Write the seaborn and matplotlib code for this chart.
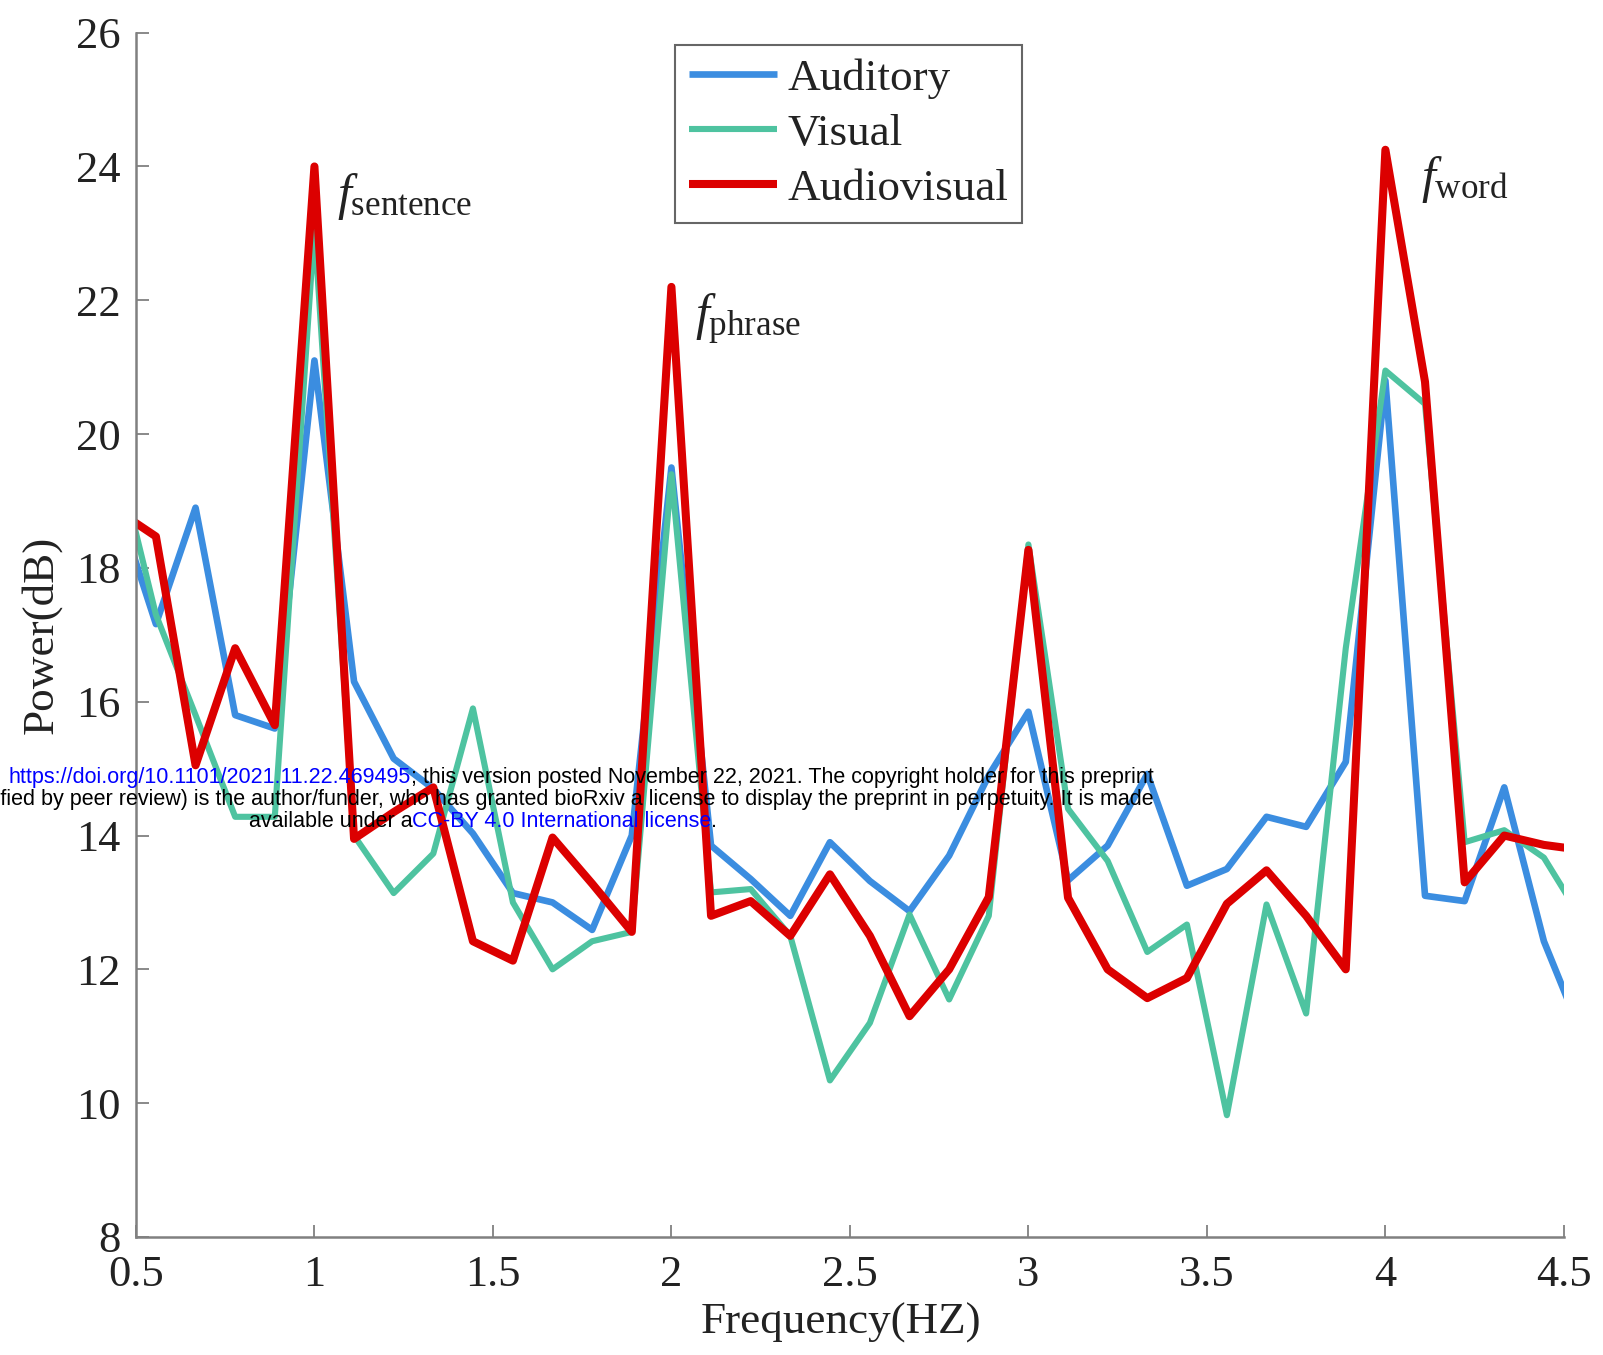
import numpy as np
import pandas as pd
import matplotlib
matplotlib.use("Agg")
import matplotlib.pyplot as plt
import seaborn as sns
from matplotlib.offsetbox import TextArea, HPacker, VPacker, AnnotationBbox

# ---------------- data ----------------
freq = [0.444, 0.556, 0.667, 0.778, 0.889, 1.0, 1.111, 1.222, 1.333, 1.444,
        1.556, 1.667, 1.778, 1.889, 2.0, 2.111, 2.222, 2.333, 2.444, 2.556,
        2.667, 2.778, 2.889, 3.0, 3.111, 3.222, 3.333, 3.444, 3.556, 3.667,
        3.778, 3.889, 4.0, 4.111, 4.222, 4.333, 4.444, 4.556]

auditory = [19.0, 17.16, 18.9, 15.8, 15.6, 21.1, 16.3, 15.15, 14.7, 14.03,
            13.14, 13.0, 12.59, 14.0, 19.5, 13.85, 13.35, 12.8, 13.9, 13.32,
            12.87, 13.7, 14.9, 15.85, 13.33, 13.85, 14.92, 13.25, 13.5, 14.28,
            14.13, 15.1, 20.8, 13.1, 13.02, 14.72, 12.42, 10.95]

visual = [19.75, 17.3, 15.8, 14.28, 14.28, 23.1, 14.0, 13.14, 13.73, 15.9,
          13.0, 12.0, 12.42, 12.56, 19.4, 13.15, 13.2, 12.5, 10.34, 11.2,
          12.82, 11.55, 12.8, 18.35, 14.4, 13.62, 12.26, 12.67, 9.82, 12.97,
          11.34, 16.8, 20.95, 20.45, 13.9, 14.08, 13.67, 12.7]

audiovisual = [18.87, 18.47, 15.05, 16.8, 15.65, 24.0, 13.95, 14.35, 14.72, 12.42,
               12.13, 13.97, 13.28, 12.56, 22.2, 12.8, 13.02, 12.5, 13.42, 12.5,
               11.3, 12.0, 13.08, 18.27, 13.07, 12.0, 11.57, 11.87, 12.98, 13.48,
               12.8, 12.0, 24.25, 20.78, 13.3, 14.0, 13.86, 13.78]

conditions = ["Auditory", "Visual", "Audiovisual"]
x_ticks = [0.5, 1, 1.5, 2, 2.5, 3, 3.5, 4, 4.5]
x_tick_labels = ["0.5", "1", "1.5", "2", "2.5", "3", "3.5", "4", "4.5"]
y_ticks = [8, 10, 12, 14, 16, 18, 20, 22, 24, 26]
peak_labels = [r"$f_{\mathrm{sentence}}$", r"$f_{\mathrm{phrase}}$", r"$f_{\mathrm{word}}$"]

# ---------------- style ----------------
colors = ["#3b8de0", "#4ec3a0", "#dc0000"]
widths = [4.8, 4.4, 5.8]
label_xy = [(1.063, 23.36), (2.066, 21.56), (4.099, 23.62)]

sns.set_style("ticks")
plt.rcParams["font.family"] = ["Liberation Serif", "DejaVu Serif"]
plt.rcParams["mathtext.fontset"] = "custom"
plt.rcParams["mathtext.rm"] = "Liberation Serif"
plt.rcParams["mathtext.it"] = "Liberation Serif:italic"

df = pd.DataFrame({
    "freq": freq * 3,
    "power": auditory + visual + audiovisual,
    "condition": np.repeat(conditions, len(freq)),
})

fig = plt.figure(figsize=(16.03, 13.55), dpi=100)
ax = fig.add_axes([0.0848, 0.0871, 0.8908, 0.8888])

for cond, col, lw in zip(conditions, colors, widths):
    sns.lineplot(data=df[df["condition"] == cond], x="freq", y="power",
                 color=col, linewidth=lw, label=cond, ax=ax,
                 solid_capstyle="butt", solid_joinstyle="round")

ax.set_xlim(0.5, 4.5)
ax.set_ylim(8, 26)
ax.set_xticks(x_ticks)
ax.set_xticklabels(x_tick_labels)
ax.set_yticks(y_ticks)
for s in ["top", "right"]:
    ax.spines[s].set_visible(False)
for s in ["left", "bottom"]:
    ax.spines[s].set_color("#808080")
    ax.spines[s].set_linewidth(1.8)
ax.tick_params(direction="in", length=9, width=1.3, color="#808080",
               labelsize=32, labelcolor="#222222")
ax.tick_params(axis="x", pad=13)
ax.tick_params(axis="y", pad=11)

ax.set_xlabel("Frequency(HZ)", fontsize=32.5, color="#222222", labelpad=5.5)
ax.xaxis.label.set_x(0.4936)
ax.set_ylabel("Power(dB)", fontsize=32.5, color="#222222", labelpad=10)

for txt, (lx, ly) in zip(peak_labels, label_xy):
    ax.text(lx, ly, txt, fontsize=36, color="#222222", ha="left", va="baseline")

leg = ax.legend(loc="upper left", bbox_to_anchor=(0.3775, 0.9898),
                borderaxespad=0, fontsize=32.5, frameon=True, fancybox=False,
                edgecolor="#666666", framealpha=1, handlelength=1.95,
                handletextpad=0.25, labelspacing=0.32, borderpad=0.3)
leg.get_frame().set_linewidth(1.5)
for t in leg.get_texts():
    t.set_color("#222222")

# ---------------- bioRxiv watermark ----------------
wm = dict(family="Liberation Sans", fontsize=15.5)


def ta(s, c):
    return TextArea(s, textprops=dict(color=c, **wm))


line1 = HPacker(children=[ta("bioRxiv preprint doi: ", "black"),
                          ta("https://doi.org/10.1101/2021.11.22.469495", "blue"),
                          ta("; this version posted November 22, 2021. The copyright holder for this preprint", "black")],
                pad=0, sep=0, align="baseline")
line2 = HPacker(children=[ta("(which was not certified by peer review) is the author/funder, who has granted bioRxiv a license to display the preprint in perpetuity. It is made", "black")],
                pad=0, sep=0, align="baseline")
line3 = HPacker(children=[ta("available under a", "black"),
                          ta("CC-BY 4.0 International license", "blue"),
                          ta(".", "black")],
                pad=0, sep=0, align="baseline")
vp = VPacker(children=[line1, line2, line3], pad=0, sep=1, align="center")
ab = AnnotationBbox(vp, (483 / 1603, 1 - (782 * 1.0223) / 1355),
                    xycoords="figure fraction", frameon=False,
                    box_alignment=(0.5, 0.5), annotation_clip=False, zorder=10)
fig.add_artist(ab)

fig.savefig("out.png", dpi=100)
